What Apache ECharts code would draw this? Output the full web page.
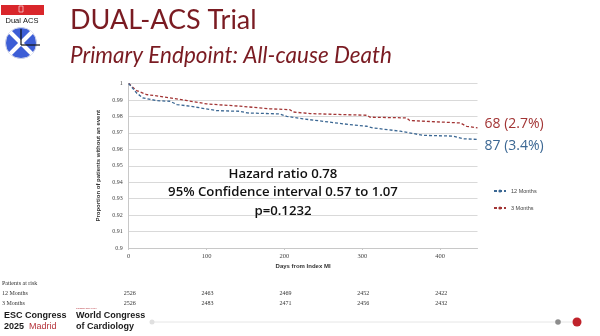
<!DOCTYPE html>
<html>
<head>
<meta charset="utf-8">
<script src="https://cdn.jsdelivr.net/npm/echarts@6/dist/echarts.min.js"></script>
<style>
  html, body { margin: 0; padding: 0; background: #ffffff; }
  #chart { width: 600px; height: 336px; }
</style>
</head>
<body>
<div id="chart"></div>
<script>
// Kaplan-Meier style survival free of all-cause death, by troponin follow-up arm
const armNames = ['12 Months', '3 Months'];
const armColors = ['#3b6793', '#a23434'];

// days from index MI
const days12 = [0, 10, 18, 36, 53, 62, 79, 113, 143, 152, 182, 194, 203, 224, 250, 284, 306, 314, 349, 378, 417, 430, 448];
const surv12 = [1.0, 0.9943, 0.9913, 0.9896, 0.9892, 0.9872, 0.9862, 0.9835, 0.9831, 0.9821, 0.9817, 0.9815, 0.980, 0.9785, 0.977, 0.975, 0.974, 0.973, 0.971, 0.9685, 0.968, 0.9664, 0.966];

const days3 = [0, 10, 23, 53, 75, 100, 143, 182, 207, 211, 233, 276, 306, 310, 357, 361, 426, 434, 448];
const surv3 = [1.0, 0.9957, 0.9933, 0.9913, 0.9896, 0.9876, 0.9862, 0.9846, 0.9841, 0.9827, 0.9817, 0.9811, 0.9807, 0.9795, 0.9791, 0.9775, 0.976, 0.974, 0.973];

const eventCounts = [87, 68];
const eventPcts = ['3.4%', '2.7%'];

// patients at risk table
const riskDays = [0, 100, 200, 300, 400];
const risk12 = [2526, 2463, 2469, 2452, 2422];
const risk3 = [2526, 2483, 2471, 2456, 2432];

const statLines = ['Hazard ratio 0.78', '95% Confidence interval 0.57 to 1.07', 'p=0.1232'];

const titleText = 'DUAL-ACS Trial';
const subtitleText = 'Primary Endpoint: All-cause Death';

const chart = echarts.init(document.getElementById('chart'));

function pairs(xs, ys) { return xs.map((x, i) => [x, ys[i]]); }

const seriesData = [pairs(days12, surv12), pairs(days3, surv3)];
const labelOffsets = [[-1, 7], [-1, -4]];

const option = {
  backgroundColor: '#ffffff',
  animation: false,
  grid: { left: 128.7, right: 122.5, top: 83.5, bottom: 88 },
  xAxis: {
    type: 'value', min: 0, max: 448, interval: 100,
    name: 'Days from Index MI', nameLocation: 'middle', nameGap: 15,
    nameTextStyle: { fontFamily: 'Liberation Sans', fontSize: 6, fontWeight: 'bold', color: '#333' },
    axisLine: { show: true, lineStyle: { color: '#c8c8c8', width: 1 } },
    axisTick: { show: true, length: 2, lineStyle: { color: '#c8c8c8' } },
    axisLabel: { fontFamily: 'Liberation Serif', fontSize: 6.5, color: '#444', margin: 5, showMaxLabel: false },
    splitLine: { show: false }
  },
  yAxis: {
    type: 'value', min: 0.9, max: 1, interval: 0.01,
    name: 'Proportion of patients without an event', nameLocation: 'middle', nameGap: 20,
    nameTextStyle: { fontFamily: 'Liberation Sans', fontSize: 6, fontWeight: 'bold', color: '#333' },
    axisLine: { show: true, lineStyle: { color: '#c8c8c8', width: 1 } },
    axisTick: { show: false },
    axisLabel: {
      fontFamily: 'Liberation Serif', fontSize: 6, color: '#444', margin: 6,
      formatter: v => String(Math.round(v * 100) / 100)
    },
    splitLine: { show: true, lineStyle: { color: '#d9d9d9', width: 1 } }
  },
  legend: {
    orient: 'vertical', left: 488, top: 183, itemGap: 11,
    itemWidth: 12, itemHeight: 4,
    textStyle: { fontFamily: 'Liberation Sans', fontSize: 5.5, color: '#444' },
    data: armNames
  },
  series: armNames.map((name, i) => ({
    name: name,
    type: 'line',
    data: seriesData[i],
    showSymbol: false,
    symbol: 'none',
    lineStyle: { color: armColors[i], width: 1.3, type: [3, 2] },
    itemStyle: { color: armColors[i] },
    endLabel: {
      show: true,
      formatter: () => eventCounts[i] + ' (' + eventPcts[i] + ')',
      offset: labelOffsets[i],
      fontFamily: 'Open Sans', fontSize: 14, color: armColors[i]
    },
    z: 3 - i
  }))
};

chart.setOption(option);

// overlay text: titles, statistics, risk table, logos
const graphics = [];

graphics.push({ type: 'text', left: 70, top: 7, style: { text: titleText, fontFamily: 'Lato', fontSize: 27, fill: '#7a1b22' } });
graphics.push({ type: 'text', left: 70, top: 44, style: { text: subtitleText, fontFamily: 'Lato', fontStyle: 'italic', fontSize: 22.5, fill: '#7a1b22' } });

statLines.forEach((t, i) => {
  graphics.push({
    type: 'text', x: 283, y: 174 + i * 18.5,
    style: { text: t, fontFamily: 'Open Sans', fontWeight: 600, fontSize: 13.2, fill: '#111', align: 'center', verticalAlign: 'middle' }
  });
});

// patients at risk
const smallFont = { fontFamily: 'Liberation Serif', fontSize: 6, fill: '#333' };
graphics.push({ type: 'text', x: 2, y: 283, style: Object.assign({ text: 'Patients at risk', verticalAlign: 'middle' }, smallFont) });
graphics.push({ type: 'text', x: 2, y: 293.5, style: Object.assign({ text: '12 Months', verticalAlign: 'middle' }, smallFont) });
graphics.push({ type: 'text', x: 2, y: 303, style: Object.assign({ text: '3 Months', verticalAlign: 'middle' }, smallFont) });
riskDays.forEach((d, i) => {
  const px = chart.convertToPixel({ gridIndex: 0 }, [d, 0.95])[0] + 1;
  graphics.push({ type: 'text', x: px, y: 293.5, style: Object.assign({ text: String(risk12[i]), align: 'center', verticalAlign: 'middle' }, smallFont) });
  graphics.push({ type: 'text', x: px, y: 303, style: Object.assign({ text: String(risk3[i]), align: 'center', verticalAlign: 'middle' }, smallFont) });
});

// trial logo
graphics.push({ type: 'rect', shape: { x: 1, y: 5, width: 43, height: 10 }, style: { fill: '#d9262b' } });
graphics.push({ type: 'rect', shape: { x: 19, y: 6, width: 4, height: 6 }, style: { fill: 'none', stroke: '#fff', lineWidth: 0.6 } });
graphics.push({ type: 'text', x: 22, y: 21, style: { text: 'Dual ACS', fontFamily: 'Liberation Sans', fontSize: 7.5, fill: '#111', align: 'center', verticalAlign: 'middle' } });
graphics.push({ type: 'circle', shape: { cx: 21, cy: 43, r: 15.5 }, style: { fill: '#3d5ed6', stroke: '#d0d4e8', lineWidth: 1 } });
graphics.push({ type: 'line', shape: { x1: 10, y1: 32, x2: 32, y2: 54 }, style: { stroke: '#fff', lineWidth: 4 } });
graphics.push({ type: 'line', shape: { x1: 32, y1: 32, x2: 10, y2: 54 }, style: { stroke: '#fff', lineWidth: 4 } });
graphics.push({ type: 'line', shape: { x1: 21, y1: 29, x2: 21, y2: 45 }, style: { stroke: '#111', lineWidth: 1.2 } });
graphics.push({ type: 'line', shape: { x1: 21, y1: 45, x2: 40, y2: 45 }, style: { stroke: '#111', lineWidth: 1.2 } });

// congress footer
const footBold = { fontFamily: 'Liberation Sans', fontWeight: 'bold', fontSize: 9, fill: '#1a1a1a', verticalAlign: 'middle' };
graphics.push({ type: 'text', x: 4, y: 316, style: Object.assign({ text: 'ESC Congress' }, footBold) });
graphics.push({ type: 'text', x: 4, y: 327, style: Object.assign({ text: '2025' }, footBold) });
graphics.push({ type: 'text', x: 29, y: 327, style: { text: 'Madrid', fontFamily: 'Liberation Sans', fontSize: 9, fill: '#b5323a', verticalAlign: 'middle' } });
graphics.push({ type: 'text', x: 76, y: 308, style: { text: 'TOGETHER WITH', fontFamily: 'Liberation Sans', fontSize: 2.5, fill: '#b5323a', verticalAlign: 'middle' } });
graphics.push({ type: 'text', x: 76, y: 316, style: Object.assign({ text: 'World Congress' }, footBold) });
graphics.push({ type: 'text', x: 76, y: 327, style: Object.assign({ text: 'of Cardiology' }, footBold) });

// slide progress bar
graphics.push({ type: 'line', shape: { x1: 152, y1: 322, x2: 572, y2: 322 }, style: { stroke: '#e6e6e6', lineWidth: 1 } });
graphics.push({ type: 'circle', shape: { cx: 152, cy: 322, r: 2.5 }, style: { fill: '#e0e0e0' } });
graphics.push({ type: 'circle', shape: { cx: 558, cy: 322, r: 2.8 }, style: { fill: '#8c8c8c' } });
graphics.push({ type: 'circle', shape: { cx: 577, cy: 322, r: 4.5 }, style: { fill: '#c0232b' } });

chart.setOption({ graphic: graphics });
</script>
</body>
</html>
